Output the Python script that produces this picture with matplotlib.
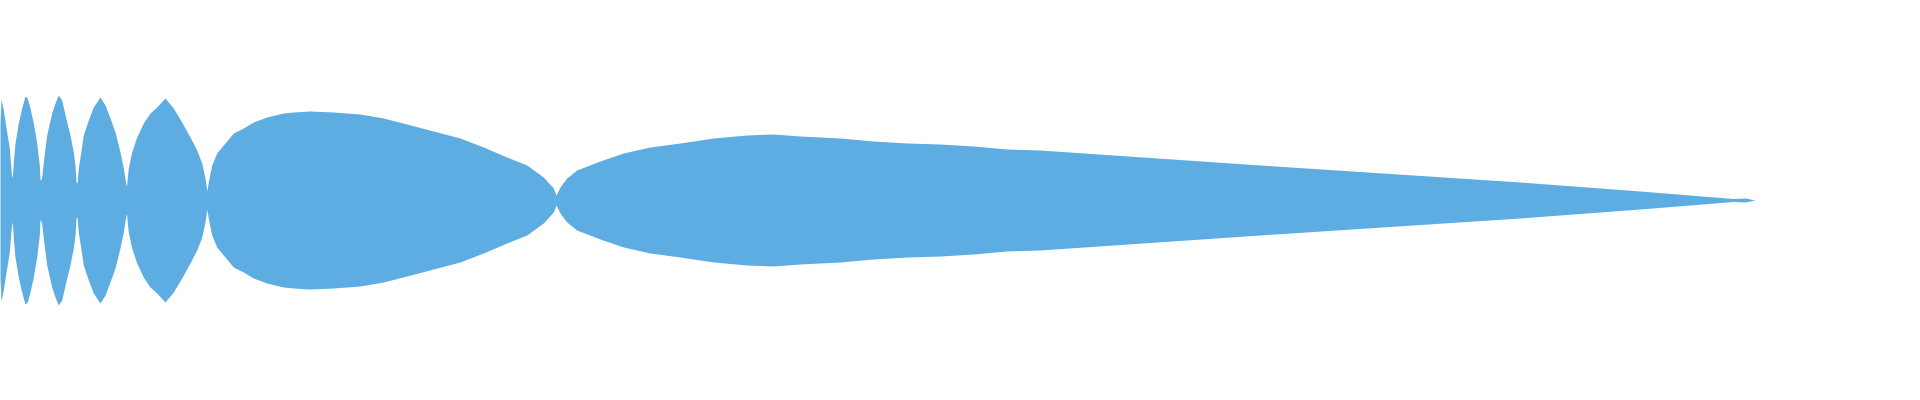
import matplotlib
matplotlib.use("Agg")
import matplotlib.pyplot as plt
import numpy as np

# x positions of outline samples and half-thickness of the symmetric stream
x_vals = [0, 1, 3.3, 6.7, 9.3, 11.3, 12.3,
          13.3, 15, 18.3, 21.7, 25, 27.3, 30, 33.3, 36.7, 39.3, 40, 40.5,
          41.7, 43.3, 46.7, 51.7, 55, 58.3, 61.7, 66.7, 70, 73.3, 75, 76, 77,
          78.3, 80, 83.3, 88.3, 93.3, 100, 105, 110, 115, 120, 123.3, 126, 126.5,
          128.3, 131.7, 136.7, 143.3, 150, 156.7, 165, 173.3, 181.7, 190, 196.7, 201.7, 205, 206.7, 207,
          208.3, 211.7, 216.7, 223.3, 233.3, 243.3, 253.3, 266.7, 283.3, 293.3, 310, 333.3, 360, 383.3,
          406.7, 433.3, 460, 483.3, 506.7, 526.7, 543.3, 553.3, 556,
          560, 566.7, 576.7, 600, 623.3, 650, 680, 713.3, 746.7, 773.3, 800, 840, 873.3, 906.7,
          940, 973.3, 1006.7, 1040, 1260, 1520, 1640, 1733, 1745, 1755]
half_vals = [78, 101, 90, 68, 52, 27, 22,
             38, 57, 77, 92, 104, 102, 92, 77, 57, 35, 20, 20,
             23, 38, 65, 87, 97, 105, 100, 78, 65, 48, 35, 18, 17,
             32, 43, 65, 80, 93, 103, 95, 82, 68, 48, 32, 15, 14,
             32, 48, 63, 77, 87, 93, 102, 92, 78, 63, 50, 37, 22, 10, 10,
             18, 35, 47, 55, 67, 72, 78, 83, 87, 88, 89, 88, 86, 82,
             76, 69, 62, 53, 43, 35, 23, 12, 5,
             13, 22, 30, 39, 47, 53, 57, 62, 65, 66, 64, 62, 59, 57,
             56, 54, 51, 50, 35, 18, 9, 1.5, 2, 0]

x = np.array(x_vals, dtype=float)
h = np.array(half_vals, dtype=float)

fig = plt.figure(figsize=(19.2, 4.0), dpi=100)
ax = fig.add_axes([0, 0, 1, 1])
ax.fill_between(x, -h, h, color="#5dade2", linewidth=0, antialiased=False)
ax.set_xlim(0, 1920)
ax.set_ylim(-200, 200)
ax.axis("off")
fig.savefig("out.png", dpi=100, facecolor="white")
